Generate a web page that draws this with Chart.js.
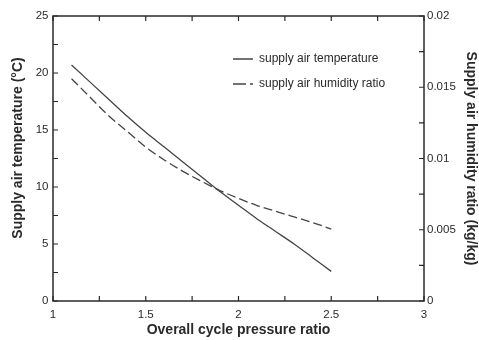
<!DOCTYPE html>
<html>
<head>
<meta charset="utf-8">
<script src="https://cdn.jsdelivr.net/npm/chart.js@4.4.1/dist/chart.umd.min.js"></script>
<style>
  html, body { margin: 0; padding: 0; background: #fff; }
  #wrap { width: 479px; height: 340px; }
</style>
</head>
<body>
<div id="wrap"><canvas id="c" width="479" height="340"></canvas></div>
<script>
// ---- data ----
const pressureRatio = [1.1, 1.2, 1.3, 1.4, 1.5, 1.6, 1.7, 1.8, 1.9, 2.0, 2.1, 2.2, 2.3, 2.4, 2.5];
const supplyTemperature = [20.7, 19.2, 17.7, 16.2, 14.8, 13.5, 12.2, 10.9, 9.6, 8.4, 7.2, 6.1, 5.0, 3.8, 2.6];
const supplyHumidity = [0.0156, 0.0143, 0.0130, 0.0119, 0.0108, 0.0099, 0.0091, 0.0084, 0.00775, 0.0072, 0.0067, 0.0063, 0.0059, 0.0055, 0.00505];
const seriesNames = ['supply air temperature', 'supply air humidity ratio'];
const xTitle = 'Overall cycle pressure ratio';
const yTitle = '\u2002\u2002\u2002Supply air temperature (°C)';
const y2Title = 'Supply air humidity ratio (kg/kg)';

const FONT = '"Liberation Sans", Arial, sans-serif';
const TXT = '#2a2a2a';
const LINE = '#444';

function isMultiple(v, step) {
  return Math.abs(Math.round(v / step) * step - v) < 1e-9;
}
function fmt(v) { return String(parseFloat(v.toFixed(6))); }

const frame = {
  id: 'frame',
  afterLayout(chart) {
    const lg = chart.legend;
    if (lg) {
      const a = chart.chartArea;
      lg.left = 220; lg.right = a.right; lg.top = 40; lg.bottom = a.bottom;
    }
  },
  afterDatasetsDraw(chart) {
    const {ctx, chartArea: a, scales} = chart;
    ctx.save();
    ctx.strokeStyle = '#2a2a2a';
    ctx.lineWidth = 1.5;
    ctx.strokeRect(a.left, a.top, a.right - a.left, a.bottom - a.top);
    ctx.lineWidth = 1.2;
    const L = 5;
    ctx.beginPath();
    scales.x.ticks.forEach(t => {
      const p = scales.x.getPixelForValue(t.value);
      ctx.moveTo(p, a.bottom); ctx.lineTo(p, a.bottom - L);
      ctx.moveTo(p, a.top); ctx.lineTo(p, a.top + L);
    });
    scales.y.ticks.forEach(t => {
      const p = scales.y.getPixelForValue(t.value);
      ctx.moveTo(a.left, p); ctx.lineTo(a.left + L, p);
    });
    scales.y2.ticks.forEach(t => {
      const p = scales.y2.getPixelForValue(t.value);
      ctx.moveTo(a.right, p); ctx.lineTo(a.right - L, p);
    });
    ctx.stroke();
    ctx.restore();
  }
};

const tempPoints = pressureRatio.map((x, i) => ({x, y: supplyTemperature[i]}));
const humPoints = pressureRatio.map((x, i) => ({x, y: supplyHumidity[i]}));

new Chart(document.getElementById('c'), {
  type: 'line',
  data: {
    datasets: [
      {
        label: seriesNames[0], data: tempPoints, yAxisID: 'y',
        borderColor: LINE, backgroundColor: LINE, borderWidth: 1.3,
        pointRadius: 0, cubicInterpolationMode: 'monotone', fill: false
      },
      {
        label: seriesNames[1], data: humPoints, yAxisID: 'y2',
        borderColor: LINE, backgroundColor: LINE, borderWidth: 1.3,
        borderDash: [9, 4],
        pointRadius: 0, cubicInterpolationMode: 'monotone', fill: false
      }
    ]
  },
  options: {
    responsive: false,
    animation: false,
    devicePixelRatio: 1,
    layout: { padding: { top: 16, left: 0, right: 0, bottom: 0 } },
    plugins: {
      tooltip: { enabled: false },
      legend: {
        display: true,
        position: 'chartArea',
        align: 'start',
        labels: {
          boxWidth: 20,
          boxHeight: 0,
          padding: 13,
          color: TXT,
          font: { family: FONT, size: 12 },
          generateLabels(chart) {
            const items = Chart.defaults.plugins.legend.labels.generateLabels(chart);
            items.forEach((it, i) => {
              it.lineWidth = 1.3;
              it.strokeStyle = LINE;
              it.fillStyle = 'rgba(0,0,0,0)';
              it.lineDashOffset = 0;
              it.lineDash = i === 1 ? [13, 4, 6, 100] : [];
            });
            return items;
          }
        }
      }
    },
    scales: {
      x: {
        type: 'linear', position: 'bottom', min: 1, max: 3,
        grid: { display: false, drawTicks: false },
        border: { display: false },
        ticks: {
          stepSize: 0.25, padding: 7, color: TXT, maxRotation: 0, autoSkip: false,
          font: { family: FONT, size: 11.5 },
          callback: v => isMultiple(v, 0.5) ? fmt(v) : ''
        },
        title: {
          display: true, text: xTitle, color: TXT,
          font: { family: FONT, size: 14, weight: 'bold' },
          padding: { top: 0, bottom: 1 }
        },
        afterFit(s) { s.height = 39; }
      },
      y: {
        type: 'linear', position: 'left', min: 0, max: 25,
        grid: { display: false, drawTicks: false },
        border: { display: false },
        ticks: {
          stepSize: 2.5, padding: 4.5, color: TXT, autoSkip: false,
          font: { family: FONT, size: 11.5 },
          callback: v => isMultiple(v, 5) ? fmt(v) : ''
        },
        title: {
          display: true, text: yTitle, color: TXT,
          font: { family: FONT, size: 14, weight: 'bold' },
          padding: { top: 10, bottom: 0 }
        },
        afterFit(s) { s.width = 53; }
      },
      y2: {
        type: 'linear', position: 'right', min: 0, max: 0.02,
        grid: { display: false, drawTicks: false },
        border: { display: false },
        ticks: {
          stepSize: 0.0025, padding: 3, color: TXT, autoSkip: false,
          font: { family: FONT, size: 11.5 },
          callback: v => isMultiple(v, 0.005) ? fmt(v) : ''
        },
        title: {
          display: true, text: y2Title, color: TXT,
          font: { family: FONT, size: 14, weight: 'bold' },
          padding: { top: 0, bottom: 0 }
        },
        afterFit(s) { s.width = 55; }
      }
    }
  },
  plugins: [frame]
});
</script>
</body>
</html>
